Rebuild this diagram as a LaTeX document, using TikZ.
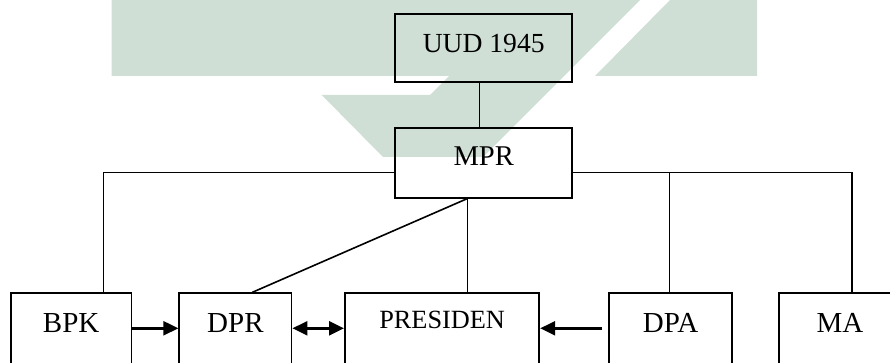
\documentclass[tikz,border=0pt]{standalone}
\usepackage{fontspec}
\setmainfont{Liberation Serif}
\usepackage{tikz}
\usetikzlibrary{arrows.meta,calc}
\definecolor{wmGreen}{RGB}{207,223,214}

\begin{document}
\begin{tikzpicture}[x=1pt, y=-1pt,
    lembaga/.style={draw, line width=1.9pt, inner sep=0pt, anchor=north,
      font=\fontsize{29}{34}\selectfont, text height=39.4pt, text depth=60pt},
    lembagaatas/.style={lembaga, font=\fontsize{28}{33}\selectfont},
    garis/.style={line width=1.6pt},
    panah/.style={line width=2.5pt, -{Triangle[length=15pt, width=14pt]}},
    panahdua/.style={line width=2.5pt, {Triangle[length=15pt, width=14pt]}-{Triangle[length=15pt, width=14pt]}}]
    \useasboundingbox (0,0) rectangle (890,363);
    \clip (0,0) rectangle (890,363);

    % Watermark in the background
    \fill[wmGreen] (111.7,0) -- (640,0) -- (483,157) -- (383,157) -- (321.7,95)
      -- (430,95) -- (449,76) -- (111.7,76) -- cycle;
    \fill[wmGreen] (670,0) -- (757,0) -- (757,76) -- (595,76) -- cycle;

    % Top boxes
    \node[lembagaatas, minimum width=177.3pt, text height=39pt, text depth=29pt,
      font=\fontsize{27.6}{33}\selectfont] (uud) at (483.7,12.7) {UUD 1945};
    \node[lembagaatas, minimum width=177.3pt, text height=37.7pt, text depth=31.7pt,
      font=\fontsize{28.6}{33}\selectfont] (mpr) at (483.7,127.3) {MPR};

    % Bottom boxes (cut off by the lower edge)
    \node[lembaga, minimum width=120.5pt] (bpk) at (71.2,292.3) {BPK};
    \node[lembaga, minimum width=112.2pt] (dpr) at (235.4,292.3) {DPR};
    \node[lembaga, minimum width=194.3pt, text height=35.7pt, text depth=63.7pt,
      font=\fontsize{26.3}{31}\selectfont] (presiden) at (442.1,292.3) {PRESIDEN};
    \node[lembaga, minimum width=122.7pt] (dpa) at (670.6,292.3) {DPA};
    \node[lembaga, minimum width=121.5pt] (ma) at (840,292.3) {MA};

    % Levels of the branch line and of the arrows
    \coordinate (cabang) at (0,172.7);
    \coordinate (jalur) at (0,328.3);

    % Lines from MPR
    \draw[garis] ([xshift=-4.4pt]uud.south) -- ([xshift=-4.4pt]mpr.north);
    \draw[garis] (mpr.west |- cabang) -| ([xshift=32.1pt]bpk.north);
    \draw[garis] (mpr.east |- cabang) -| ([xshift=11.7pt]ma.north);
    \draw[garis] ([xshift=-1.3pt]dpa.north |- cabang) -- ([xshift=-1.3pt]dpa.north);
    \draw[garis] ([xshift=-16.4pt]mpr.south) -- ([xshift=25.2pt]presiden.north);
    \draw[garis] ([xshift=-16.4pt]mpr.south) -- ([xshift=17pt]dpr.north);

    % Arrows between the bodies
    \draw[panah] (bpk.east |- jalur) -- (dpr.west |- jalur);
    \draw[panahdua] (dpr.east |- jalur) -- (presiden.west |- jalur);
    \draw[panah] ([xshift=-6pt]dpa.west |- jalur) -- (presiden.east |- jalur);
  \end{tikzpicture}
\end{document}
